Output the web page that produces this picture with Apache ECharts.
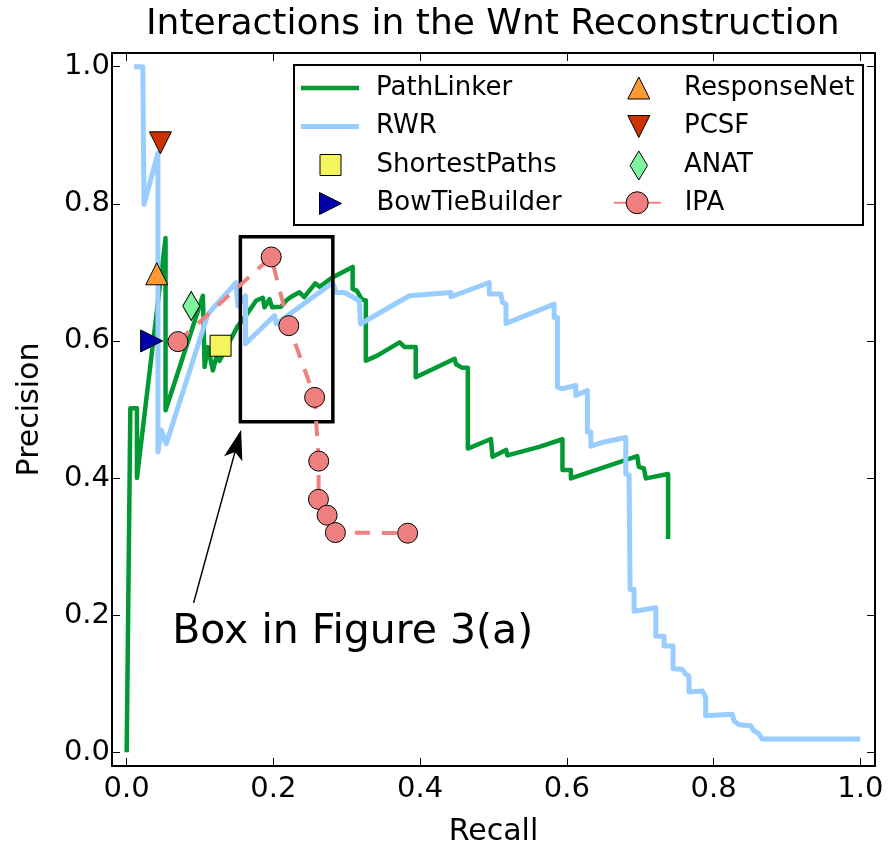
<!DOCTYPE html>
<html>
<head>
<meta charset="utf-8">
<script src="https://cdn.jsdelivr.net/npm/echarts@6/dist/echarts.min.js"></script>
<style>
  html, body { margin: 0; padding: 0; background: #fff; }
  #chart { width: 893px; height: 852px; }
</style>
</head>
<body>
<div id="chart"></div>
<script>
// Precision / recall values, [recall, precision]
const pathLinker = [
  [0.000, 0.000], [0.005, 0.502], [0.014, 0.502], [0.014, 0.400],
  [0.053, 0.750], [0.053, 0.499], [0.1039, 0.666], [0.1062, 0.562],
  [0.1107, 0.591], [0.1175, 0.557], [0.1221, 0.576], [0.1266, 0.571],
  [0.1515, 0.622], [0.158, 0.630], [0.1766, 0.659], [0.1856, 0.663],
  [0.1879, 0.649], [0.1947, 0.661], [0.1983, 0.649], [0.2106, 0.650],
  [0.2174, 0.659], [0.2236, 0.664], [0.2355, 0.671], [0.242, 0.664],
  [0.257, 0.684], [0.263, 0.679], [0.281, 0.693], [0.308, 0.708],
  [0.308, 0.676], [0.314, 0.673], [0.320, 0.661], [0.326, 0.659],
  [0.326, 0.571], [0.342, 0.579], [0.372, 0.598], [0.379, 0.591],
  [0.394, 0.591], [0.394, 0.547], [0.447, 0.574], [0.449, 0.566],
  [0.457, 0.561], [0.465, 0.561], [0.465, 0.443], [0.4965, 0.457],
  [0.4987, 0.431], [0.517, 0.441], [0.519, 0.433], [0.5623, 0.4455],
  [0.594, 0.4566], [0.594, 0.4116], [0.6055, 0.4116], [0.6055, 0.3995],
  [0.696, 0.432], [0.698, 0.4164], [0.705, 0.414], [0.7076, 0.3995],
  [0.738, 0.4058], [0.738, 0.311]
];

const rwr = [
  [0.010, 1.000], [0.022, 1.000], [0.0236, 0.799], [0.0426, 0.874],
  [0.0426, 0.438], [0.0472, 0.470], [0.054, 0.450], [0.1107, 0.639],
  [0.149, 0.685], [0.1515, 0.651], [0.162, 0.666], [0.162, 0.596],
  [0.2015, 0.637], [0.204, 0.625], [0.2809, 0.685], [0.2855, 0.6706],
  [0.2968, 0.6706], [0.3172, 0.6586], [0.3186, 0.6247], [0.3853, 0.6659],
  [0.4421, 0.6706], [0.4421, 0.6645], [0.4942, 0.6852], [0.4942, 0.6683],
  [0.5101, 0.6683], [0.5123, 0.656], [0.517, 0.6538], [0.517, 0.6256],
  [0.5827, 0.6538], [0.5827, 0.6343], [0.5872, 0.6343], [0.5872, 0.5326],
  [0.594, 0.5303], [0.6122, 0.5351], [0.6122, 0.5206], [0.628, 0.5278],
  [0.628, 0.4672], [0.6327, 0.4672], [0.6327, 0.4465], [0.6508, 0.4527],
  [0.6803, 0.4591], [0.6803, 0.4058], [0.6848, 0.4043], [0.6862, 0.2373],
  [0.6916, 0.2373], [0.6916, 0.2057], [0.7212, 0.2107], [0.7212, 0.1694],
  [0.7325, 0.1694], [0.7325, 0.1549], [0.7447, 0.1549], [0.7447, 0.122],
  [0.7574, 0.121], [0.762, 0.1138], [0.7665, 0.1113], [0.7665, 0.088],
  [0.7846, 0.0895], [0.7892, 0.0799], [0.7892, 0.0532], [0.8255, 0.0556],
  [0.8278, 0.0459], [0.8346, 0.0401], [0.8505, 0.0387], [0.855, 0.0314],
  [0.8609, 0.028], [0.8663, 0.0193], [1.0, 0.0193]
];

const ipa = [
  [0.0698, 0.599], [0.197, 0.7225], [0.221, 0.6223], [0.2562, 0.5177],
  [0.2618, 0.4247], [0.2614, 0.369], [0.2732, 0.3458], [0.2845, 0.3205],
  [0.383, 0.3196]
];

const shortestPaths = [[0.128, 0.593]];
const bowTieBuilder = [[0.034, 0.600]];
const responseNet = [[0.041, 0.698]];
const pcsf = [[0.046, 0.889]];
const anat = [[0.088, 0.651]];

// Highlighted region [recall0, precision0, recall1, precision1] and its arrow [fromX, fromY, toX, toY]
const boxCorners = [0.155, 0.482, 0.281, 0.752];
const arrowEnds = [0.0912, 0.218, 0.156, 0.4705];
const noteAt = [0.062, 0.175];
const noteText = 'Box in Figure 3(a)';

const tickValues = [0.0, 0.2, 0.4, 0.6, 0.8, 1.0];
const axisRange = [-0.02, 1.02];

const FONT = "'DejaVu Sans', sans-serif";
const SYM = {
  square: 'path://M0,0L1,0L1,1L0,1Z',
  up: 'path://M0,-1L1,1L-1,1Z',
  down: 'path://M-1,-1L1,-1L0,1Z',
  right: 'path://M-1,-1L1,0L-1,1Z',
  thinDiamond: 'path://M0,-1L0.6,0L0,1L-0.6,0Z'
};

function frameAxis(position, withLabels, name, nameGap, labelMargin) {
  return {
    type: 'value',
    position: position,
    min: axisRange[0],
    max: axisRange[1],
    axisLine: { show: true, onZero: false, lineStyle: { color: '#000', width: 2 } },
    axisTick: { show: true, inside: true, length: 8, customValues: tickValues,
                lineStyle: { color: '#000', width: 1 } },
    axisLabel: withLabels ? {
      show: true, customValues: tickValues, margin: labelMargin,
      formatter: v => v.toFixed(1), fontSize: 29, color: '#000', fontFamily: FONT
    } : { show: false },
    splitLine: { show: false },
    name: name || '',
    nameLocation: 'middle',
    nameGap: nameGap || 0,
    nameTextStyle: { fontSize: 30, color: '#000', fontFamily: FONT }
  };
}

function markerSeries(name, data, symbol, size, color) {
  return {
    type: 'scatter', name: name, data: data, symbol: symbol, symbolSize: size,
    itemStyle: { color: color, borderColor: '#000', borderWidth: 1, opacity: 1 },
    z: 6, silent: true
  };
}

// Legend entries laid out in a two-column frame; each entry is its own legend box
const rowCenters = [88, 126.5, 165, 203.5];
const legendSpecs = [
  { name: 'PathLinker', left: 301, row: 0, w: 58, h: 21, pad: 12, icon: 'path://M0,0H58V4.5H0Z', bw: 0 },
  { name: 'RWR', left: 301, row: 1, w: 58, h: 21, pad: 12, icon: 'path://M0,0H58V5H0Z', bw: 0 },
  { name: 'ShortestPaths', left: 319.5, row: 2, w: 21, h: 21, pad: 30.5, icon: SYM.square, bw: 1 },
  { name: 'BowTieBuilder', left: 319, row: 3, w: 22, h: 22, pad: 30, icon: SYM.right, bw: 1 },
  { name: 'ResponseNet', left: 627.3, row: 0, w: 22, h: 22, pad: 29.2, icon: SYM.up, bw: 1 },
  { name: 'PCSF', left: 627.3, row: 1, w: 22, h: 22, pad: 29.2, icon: SYM.down, bw: 1 },
  { name: 'ANAT', left: 629.6, row: 2, w: 17.4, h: 29, pad: 31.5, icon: SYM.thinDiamond, bw: 1 },
  { name: 'IPA', left: 612.7, row: 3, w: 47, h: 27.5, pad: 19, icon: null, bw: 1 }
];

const legends = legendSpecs.map(s => {
  const item = { name: s.name };
  if (s.icon) item.icon = s.icon;
  return {
    data: [item],
    left: s.left,
    top: rowCenters[s.row] - Math.max(s.h, 26) / 2,
    orient: 'vertical',
    padding: 0,
    itemWidth: s.w,
    itemHeight: s.h,
    symbolKeepAspect: true,
    selectedMode: false,
    itemStyle: { borderWidth: s.bw },
    lineStyle: { type: 'solid' },
    textStyle: { fontSize: 26, color: '#000', fontFamily: FONT, padding: [0, 0, 0, s.pad] }
  };
});

const chart = echarts.init(document.getElementById('chart'), null, { renderer: 'canvas' });

chart.setOption({
  animation: false,
  backgroundColor: '#fff',
  title: {
    text: 'Interactions in the Wnt Reconstruction',
    left: 146, top: 7, padding: 0,
    textStyle: { fontSize: 36, fontWeight: 'normal', color: '#000', fontFamily: FONT }
  },
  grid: { left: 112, right: 18, top: 53, bottom: 85, containLabel: false },
  xAxis: [
    frameAxis('bottom', true, 'Recall', 51, 9),
    frameAxis('top', false)
  ],
  yAxis: [
    frameAxis('left', true, 'Precision', 67, 2),
    frameAxis('right', false)
  ],
  legend: legends,
  graphic: [{
    type: 'rect', z: 3,
    shape: { x: 294, y: 65, width: 569, height: 160 },
    style: { fill: '#fff', stroke: '#000', lineWidth: 2 }
  }],
  series: [
    {
      type: 'line', name: 'PathLinker', data: pathLinker, symbol: 'none',
      itemStyle: { color: '#009933' },
      lineStyle: { color: '#009933', width: 4.5, join: 'round' },
      z: 2, silent: true
    },
    {
      type: 'line', name: 'RWR', data: rwr, symbol: 'none',
      itemStyle: { color: '#99ccff' },
      lineStyle: { color: '#99ccff', width: 5, join: 'round' },
      z: 3, silent: true
    },
    markerSeries('ShortestPaths', shortestPaths, SYM.square, 21, '#f4f45c'),
    markerSeries('BowTieBuilder', bowTieBuilder, SYM.right, 22, '#0000aa'),
    markerSeries('ResponseNet', responseNet, SYM.up, 22, '#ff9933'),
    markerSeries('PCSF', pcsf, SYM.down, 22, '#cc3300'),
    markerSeries('ANAT', anat, SYM.thinDiamond, [17, 29], '#80f5a0'),
    {
      type: 'line', name: 'IPA', data: ipa, symbol: 'circle', symbolSize: 20, showSymbol: true,
      itemStyle: { color: '#f08080', borderColor: '#000', borderWidth: 1, opacity: 1 },
      lineStyle: { color: '#f08080', width: 4, type: [15, 12] },
      z: 5, silent: true
    },
    {
      type: 'custom', name: 'region', coordinateSystem: 'cartesian2d',
      data: [boxCorners], encode: { x: [0, 2], y: [1, 3] },
      z: 4, silent: true, clip: false,
      renderItem: function (params, api) {
        const p0 = api.coord([api.value(0), api.value(3)]);
        const p1 = api.coord([api.value(2), api.value(1)]);
        return {
          type: 'rect',
          shape: { x: p0[0], y: p0[1], width: p1[0] - p0[0], height: p1[1] - p0[1] },
          style: { fill: 'none', stroke: '#000', lineWidth: 3.5 }
        };
      }
    },
    {
      type: 'custom', name: 'pointer', coordinateSystem: 'cartesian2d',
      data: [arrowEnds], encode: { x: [0, 2], y: [1, 3] },
      z: 6, silent: true, clip: false,
      renderItem: function (params, api) {
        const a = api.coord([api.value(0), api.value(1)]);
        const b = api.coord([api.value(2), api.value(3)]);
        const dx = b[0] - a[0], dy = b[1] - a[1];
        const len = Math.hypot(dx, dy);
        const ux = dx / len, uy = dy / len, nx = -uy, ny = ux;
        const headLen = 30, headW = 9.5, notch = 7;
        const back = [b[0] - ux * headLen, b[1] - uy * headLen];
        const mid = [b[0] - ux * (headLen - notch), b[1] - uy * (headLen - notch)];
        return {
          type: 'group',
          children: [
            { type: 'line', shape: { x1: a[0], y1: a[1], x2: mid[0], y2: mid[1] },
              style: { stroke: '#000', lineWidth: 1.5 } },
            { type: 'polygon',
              shape: { points: [b, [back[0] + nx * headW, back[1] + ny * headW], mid,
                                [back[0] - nx * headW, back[1] - ny * headW]] },
              style: { fill: '#000' } }
          ]
        };
      }
    },
    {
      type: 'custom', name: 'note', coordinateSystem: 'cartesian2d',
      data: [noteAt], z: 6, silent: true, clip: false,
      renderItem: function (params, api) {
        const p = api.coord([api.value(0), api.value(1)]);
        return {
          type: 'text', x: p[0], y: p[1],
          style: { text: noteText, fontSize: 41, fontFamily: FONT, fill: '#000',
                   align: 'left', verticalAlign: 'middle' }
        };
      }
    }
  ]
});
</script>
</body>
</html>
